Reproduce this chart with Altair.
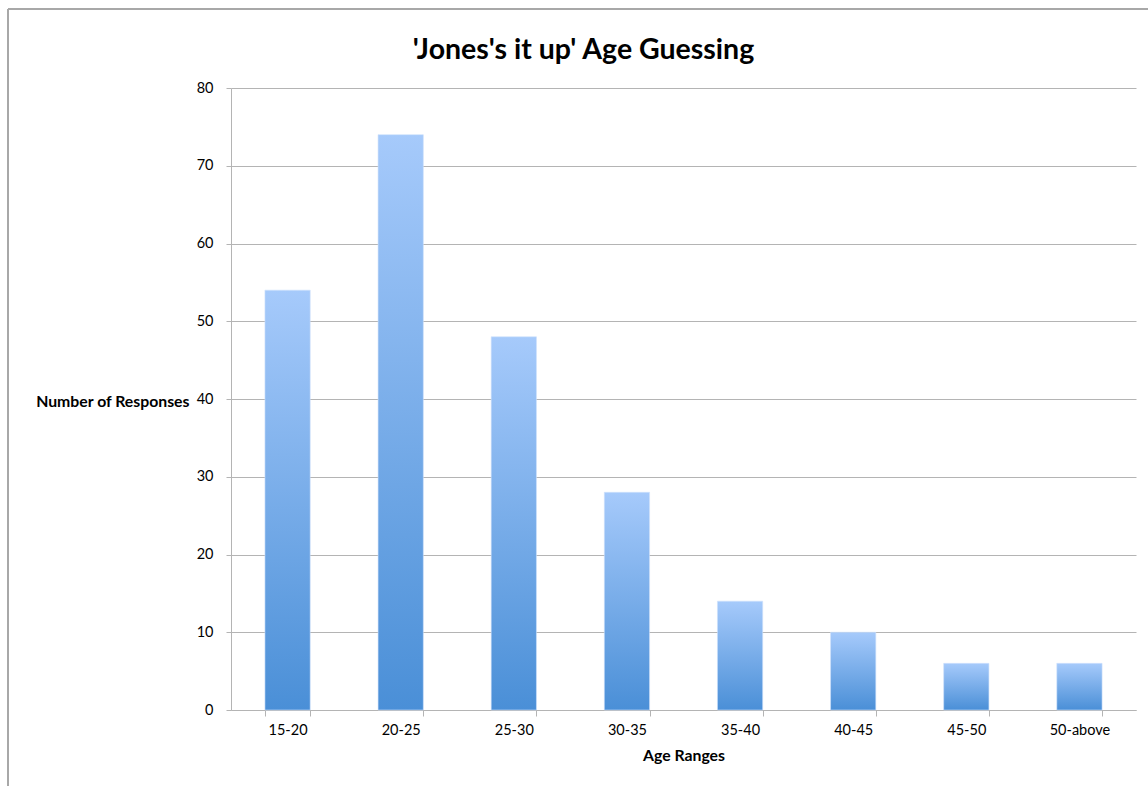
import altair as alt
import pandas as pd

# Survey results: guessed age range vs. number of responses
age_ranges = ["15-20", "20-25", "25-30", "30-35", "35-40", "40-45", "45-50", "50-above"]
responses = [54, 74, 48, 28, 14, 10, 6, 6]

df = pd.DataFrame({"Age Range": age_ranges, "Responses": responses})

FONT = "Lato"
GRID = "#b4b4b4"
W, H = 905, 622

bar_fill = alt.Gradient(
    gradient="linear",
    stops=[
        alt.GradientStop(color="#a6cafb", offset=0),
        alt.GradientStop(color="#4a8fd7", offset=1),
    ],
    x1=0, x2=0, y1=0, y2=1,
)

bars = alt.Chart(df).mark_bar(color=bar_fill, stroke="#cfe1fb", strokeWidth=0.6).encode(
    x=alt.X(
        "Age Range:N",
        sort=age_ranges,
        scale=alt.Scale(paddingInner=0.6, paddingOuter=0.3),
        axis=alt.Axis(
            title="Age Ranges",
            titleFont=FONT, titleFontSize=15.8, titleFontWeight="bold", titleColor="#000",
            titlePadding=12,
            labelFont=FONT, labelFontSize=14.5, labelColor="#000", labelAngle=0,
            labelPadding=7,
            tickBand="extent", tickSize=6, tickColor=GRID, domainColor=GRID,
            grid=False,
        ),
    ),
    y=alt.Y(
        "Responses:Q",
        scale=alt.Scale(domain=[0, 80], nice=False),
        axis=alt.Axis(
            title="Number of Responses",
            titleFont=FONT, titleFontSize=15.8, titleFontWeight="bold", titleColor="#000",
            titleAngle=0, titleAlign="right", titleBaseline="middle",
            titleX=-42, titleY=H / 2 + 2,
            labelFont=FONT, labelFontSize=14.5, labelColor="#000",
            labelPadding=13,
            values=list(range(0, 81, 10)),
            tickSize=5, tickColor=GRID, domainColor=GRID,
            grid=True, gridColor=GRID, gridWidth=1,
        ),
    ),
)

# Outer frame around the chart (top and left edges)
frame_df = pd.DataFrame({"k": [0]})
frame_top = alt.Chart(frame_df).mark_rule(color="#a8a8a8", strokeWidth=2).encode(
    x=alt.value(-223), x2=alt.value(917 + 20), y=alt.value(-79)
)
frame_left = alt.Chart(frame_df).mark_rule(color="#a8a8a8", strokeWidth=2).encode(
    x=alt.value(-223), y=alt.value(-79), y2=alt.value(720)
)

chart = (
    alt.layer(frame_top, frame_left, bars)
    .properties(
        width=W,
        height=H,
        autosize=alt.AutoSizeParams(type="none"),
        padding={"left": 231, "top": 88, "right": 12, "bottom": 76},
        title=alt.TitleParams(
            "'Jones's it up' Age Guessing",
            font=FONT, fontSize=28.5, fontWeight="bold", color="#000",
            anchor="middle", dx=-100, dy=74, offset=18,
        ),
        background="white",
    )
    .configure_view(stroke=None)
)

chart.save("out.html", embed_options={"renderer": "svg", "actions": False})
